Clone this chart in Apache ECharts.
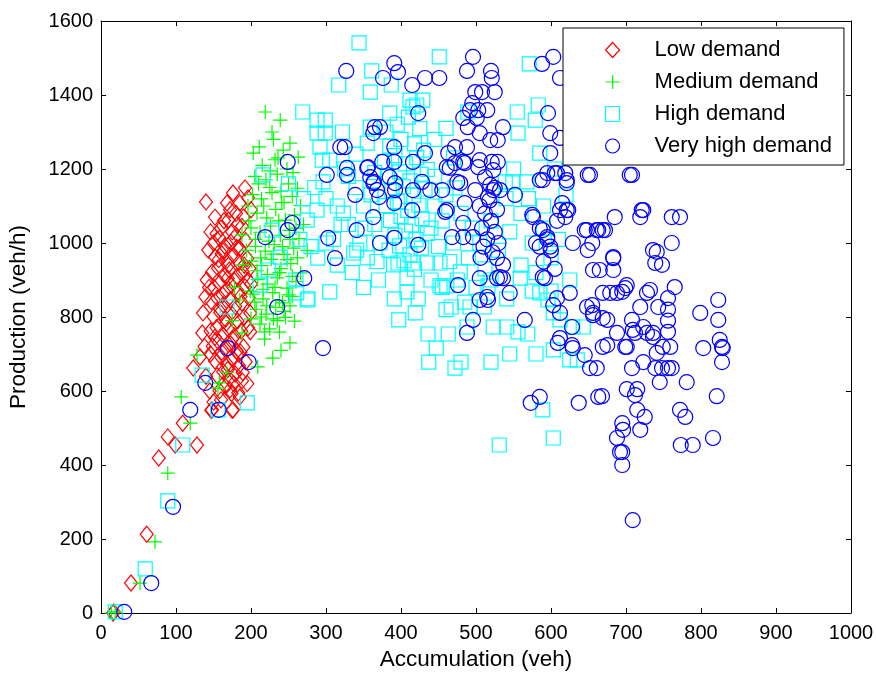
<!DOCTYPE html>
<html>
<head>
<meta charset="utf-8">
<script src="https://cdn.jsdelivr.net/npm/echarts@6/dist/echarts.min.js"></script>
<style>html,body{margin:0;padding:0;background:#fff;}#c{width:876px;height:675px;}</style>
</head>
<body>
<div id="c"></div>
<script>
const seriesNames = ['Low demand', 'Medium demand', 'High demand', 'Very high demand'];

const lowDemand = [
[16,0],[17,3],[40,81],[61,213],[77,419],[89,476],[99,454],[109,513],[128,454],[123,662],[132,692],[147,548],[175,548],[183,595],[172,603],[185,584],[148,549],[176,549],
[140,1111],[143,981],[141,900],[136,811],[135,757],[139,854],[138,720],[140,640],[145,600],[150,570],
[176,1135],[192,1149],[168,1108],[185,1108],[196,1122],[180,1080],[170,1062],[190,1070],[160,1040],[175,1030],[188,1045],[200,1090],
[150,1000],[158,1013],[165,992],[173,1002],[181,988],[193,1006],
[152,962],[161,971],[168,953],[177,966],[184,948],[195,958],
[148,921],[156,932],[164,914],[171,927],[181,909],[189,922],[198,931],
[151,879],[158,892],[167,873],[174,886],[183,868],[192,881],[200,889],
[147,842],[155,851],[163,833],[172,846],[179,829],[188,838],[197,852],
[150,801],[159,812],[166,794],[175,806],[182,789],[191,799],[199,811],
[146,762],[154,771],[162,753],[170,766],[178,749],[187,762],[196,771],
[149,721],[157,732],[165,714],[173,727],[181,708],[190,719],
[152,681],[160,692],[168,673],[176,687],[184,668],[193,679],
[155,641],[163,652],[171,633],[179,646],[188,628],
[158,601],[166,612],[174,593],[195,620],[160,576],[186,705],[169,905],[162,860],[185,985],[178,1015],
[154,1025],[163,978],[170,940],[178,898],[186,855],[159,822],[167,783],[175,741],[183,701],[152,745],[161,705],[169,658],[177,620],
[144,880],[146,700],[191,940],[196,900],[199,760],[189,650],[157,955],[164,1060],[182,1050],[172,1090],[152,1070],[146,1030]
];

const mediumDemand = [
[19,3],[14,0],[52,81],[72,192],[89,378],[119,513],[107,584],[128,697],[156,608],[158,622],
[188,1022],[189,941],[185,846],[188,757],[175,790],[168,650],[178,880],
[219,1354],[239,1332],[203,1243],[228,1300],[252,1270],[263,1232],[243,1251],[230,1280],[215,1210],[248,1200],
[205,1180],[220,1171],[235,1186],[250,1160],[262,1148],
[202,1131],[214,1119],[228,1136],[241,1109],[255,1126],[266,1101],
[208,1081],[221,1068],[233,1091],[246,1062],[258,1076],
[200,1041],[212,1029],[226,1046],[239,1021],[251,1034],[264,1012],
[206,991],[219,978],[231,996],[244,969],[257,986],
[201,951],[214,939],[227,956],[240,931],[253,944],[266,919],
[209,901],[222,889],[235,906],[248,878],[260,896],
[203,862],[216,849],[229,866],[242,838],[255,856],
[207,821],[220,808],[233,826],[246,799],[258,789],
[212,781],[225,768],[238,759],
[252,730],[229,689],[209,665],[240,710],[218,740],[270,1050],[275,980],[196,1100],[199,870],[232,1225],
[210,1160],[225,1150],[240,1140],[256,1190],[217,1100],[237,1060],[252,1010],[206,1010],[224,1005],[242,990],
[213,960],[230,970],[248,955],[262,960],[208,925],[222,915],[238,920],[255,910],[216,875],[232,880],[250,860],
[205,840],[221,830],[238,845],[252,830],[214,800],[230,795],[244,815],[200,795],[218,760],[235,790],[194,980],[197,1060],[244,1110],[260,1040],[226,1195],[211,1260],[236,1230]
];

const highDemand = [
[19,3],[59,119],[89,303],[109,454],[135,643],[156,549],[195,568],[168,827],[216,1184],[228,1035],[223,927],[212,886],
[261,865],[275,846],[289,959],[337,973],[305,868],[276,849],[239,962],
[344,1541],[451,1503],[571,1484],[361,1465],[317,1427],[359,1408],[387,1427],[583,1373],[555,1354],[489,1354],[269,1354],
[288,1332],[299,1332],[288,1297],[299,1297],[416,1368],[579,1332],[556,1297],[292,1259],[295,1224],[305,1224],[585,1243],
[539,1165],[549,1165],[568,1165],[472,1149],[296,1165],[288,1089],[323,1081],[341,981],[275,1062],[385,1351],[412,1386],[421,1373],[429,1386],[359,1313],
[380,1300],[395,1321],[410,1340],[425,1309],[385,1262],[400,1280],[418,1268],[430,1251],[378,1220],[392,1236],[406,1214],[421,1231],[435,1199],
[382,1181],[398,1192],[412,1168],[427,1186],[388,1141],[403,1152],[417,1129],[432,1146],[380,1101],[395,1112],[409,1088],[424,1102],
[386,1061],[400,1072],[414,1049],[428,1066],[392,1021],[406,1032],[420,1009],[435,1026],[384,981],[398,992],[412,968],[427,986],[390,941],[404,952],[418,929],
[325,1200],[340,1150],[350,1100],[330,1050],[345,1000],[360,1130],[365,1050],[355,960],[335,920],[350,880],[370,900],[372,1000],
[445,1180],[460,1130],[455,1060],[470,1000],[480,1080],[495,1040],[450,990],[465,950],[490,960],[505,1000],[520,1060],[512,930],[530,980],
[440,900],[455,880],[475,900],[500,880],[460,820],[485,840],[520,900],[545,1030],[560,1080],[540,1120],[575,1000],[590,1040],[600,960],[560,940],[580,920],[610,1010],[625,900],[600,870],[575,870],
[391,849],[423,849],[397,792],[419,811],[436,754],[463,754],[447,716],[437,678],[480,678],[472,662],[520,678],[467,827],[492,827],[511,827],[488,773],[523,773],[541,773],[569,754],
[531,454],[589,549],[603,473],[541,849],[559,905],[516,884],[479,922],[452,884],[461,884],[408,868],[396,946],[416,946],[435,946],[452,946],[408,905],
[596,846],[585,865],[603,811],[612,792],[629,773],[643,773],[603,711],[625,684],[635,684],[556,760],[580,700],[545,700],
[270,1120],[285,1150],[300,1120],[315,1100],[320,1050],[330,1180],[310,1010],[265,1010],[280,990],[300,1000],[315,940],[260,900],[250,1160],
[340,1240],[355,1270],[322,1300],[445,1280],[460,1310],[470,1230],[445,1100],[440,1040],[365,1190],[352,1040],[368,950],[550,1200],[590,1100],[570,1120],[605,1200],[620,1130]
];

const veryHighDemand = [
[31,3],[67,81],[96,287],[119,549],[139,622],[157,549],[169,716],[197,678],[235,827],[271,905],[296,716],[312,959],[219,1016],[249,1035],[255,1054],
[327,1465],[376,1446],[372,1313],[363,1297],[325,1259],[319,1259],[249,1219],[301,1184],[328,1203],[328,1184],[355,1203],[359,1178],[363,1162],[368,1143],[339,1130],[363,1070],[341,1035],[303,1014],[372,1000],
[391,1486],[396,1462],[415,1427],[432,1446],[451,1446],[496,1503],[488,1465],[520,1465],[521,1446],[499,1408],[508,1408],[525,1408],[603,1503],[588,1484],[423,1351],
[495,1378],[492,1359],[503,1359],[515,1359],[483,1338],[501,1338],[489,1313],[505,1297],[519,1278],[529,1278],[536,1313],[596,1351],[599,1297],[599,1243],
[365,1313],[391,1259],[432,1243],[375,1219],[391,1219],[416,1219],[463,1243],[472,1259],[488,1259],[465,1203],[483,1219],[505,1224],[521,1219],[529,1219],
[356,1205],[364,1165],[371,1124],[385,1178],[392,1162],[392,1143],[391,1108],[416,1143],[428,1165],[439,1143],[455,1143],[415,1089],[461,1089],[475,1165],[485,1108],[499,1143],
[461,1205],[472,1216],[485,1216],[503,1205],[512,1178],[523,1197],[479,1162],[519,1157],[525,1149],[516,1124],[459,1084],
[505,1100],[512,1080],[520,1060],[508,1040],[525,1030],[515,1010],[530,1000],[510,990],[522,975],[518,1115],[528,1090],[506,960],
[523,1143],[532,1143],[552,1130],[483,1054],[468,1016],[483,1016],[496,1016],[423,995],[391,1014],[476,886],[505,905],[515,854],[505,846],[528,959],[536,941],[532,908],
[576,1070],[585,1040],[595,1010],[600,980],[590,950],[605,930],[580,1000],[608,1060],[615,1108],[621,1089],[619,1070],[608,1189],[585,1170],[589,1170],[595,1189],[621,1170],[605,1189],
[652,1184],[708,1184],[723,1089],[719,1070],[685,1070],[612,1089],[623,1089],[575,1076],[589,1035],[595,1016],[599,990],[585,990],[629,1000],[648,1035],[661,1035],[669,1035],[655,1000],[649,981],
[683,959],[683,927],[656,927],[665,927],[736,981],[739,946],[589,908],[625,865],[679,865],[688,865],[699,878],[719,827],[732,873],[648,827],[656,805],[628,773],[669,797],[688,757],[709,765],[728,757],[736,746],
[612,743],[628,724],[675,724],[701,719],[545,865],[565,792],[608,851],[603,832],[612,811],[496,792],[488,757],[516,846],[609,730],[629,716],
[721,1089],[761,1070],[772,1070],[761,1000],[741,976],[748,941],[765,881],[701,886],[695,868],[669,865],[728,865],[756,851],[756,820],[756,790],[756,760],[743,827],[708,792],[675,792],[723,773],[712,757],[736,757],
[669,719],[699,719],[749,719],[759,719],[741,703],[803,716],[825,738],[828,719],[829,716],[823,792],[799,811],[823,846],[828,678],[739,662],[748,662],[756,662],[761,662],[708,662],[723,678],
[745,624],[781,624],[701,605],[715,605],[712,589],[668,586],[821,586],[772,549],[779,530],[715,549],[725,530],[695,513],[696,495],[688,473],[692,435],[695,435],[695,400],[719,495],[773,454],[789,454],[816,473],[709,251],
[612,1446],[619,1189],[621,1162],[649,1184],[705,1184],[645,1035],[663,1035],[672,1035],[683,962],[612,1284],[585,584],[573,568],[637,568],[663,584],[652,662],[661,662],[655,832],[656,811],[645,697],[592,905],[528,905],[536,905]
];

const xTicks = { min: 0, max: 1000, interval: 100 };
const yTicks = { min: 0, max: 1600, interval: 200 };

const FONT = 'Liberation Sans, Arial, Helvetica, sans-serif';
const plusPath = 'path://M5,0L5,10M0,5L10,5';
const styles = [
  { symbol: 'diamond', size: [13, 16], color: '#ff0000' },
  { symbol: plusPath, size: 14, color: '#00ff00' },
  { symbol: 'rect', size: 14, color: '#00ffff' },
  { symbol: 'circle', size: 15, color: '#0000ff' }
];
const datasets = [lowDemand, mediumDemand, highDemand, veryHighDemand];

const chart = echarts.init(document.getElementById('c'), null, { renderer: 'canvas' });

function axisCommon(extra) {
  return Object.assign({
    type: 'value',
    splitLine: { show: false },
    axisLine: { show: true, onZero: false, lineStyle: { color: '#000', width: 1 } },
    axisTick: { show: true, inside: true, length: 5, lineStyle: { color: '#000', width: 1 } },
    axisLabel: { show: false }
  }, extra);
}

const plainNum = v => String(v);

chart.setOption({
  animation: false,
  backgroundColor: '#fff',
  grid: { left: 101, right: 25, top: 21, bottom: 62, containLabel: false, outerBoundsMode: 'none' },
  xAxis: [
    axisCommon({
      position: 'bottom', min: xTicks.min, max: xTicks.max, interval: xTicks.interval,
      name: 'Accumulation (veh)', nameLocation: 'middle', nameGap: 35,
      nameTextStyle: { color: '#000', fontSize: 22.5, fontFamily: FONT },
      axisLabel: { show: true, color: '#000', fontSize: 20, fontFamily: FONT, margin: 10, formatter: plainNum }
    }),
    axisCommon({ position: 'top', min: xTicks.min, max: xTicks.max, interval: xTicks.interval })
  ],
  yAxis: [
    axisCommon({
      position: 'left', min: yTicks.min, max: yTicks.max, interval: yTicks.interval,
      name: 'Production (veh/h)', nameLocation: 'middle', nameGap: 71,
      nameTextStyle: { color: '#000', fontSize: 22.5, fontFamily: FONT },
      axisLabel: { show: true, color: '#000', fontSize: 20, fontFamily: FONT, margin: 8, formatter: plainNum }
    }),
    axisCommon({ position: 'right', min: yTicks.min, max: yTicks.max, interval: yTicks.interval })
  ],
  legend: {
    orient: 'vertical',
    left: 563, top: 28,
    padding: [11, 12, 8, 42],
    itemGap: 10,
    itemWidth: 14, itemHeight: 15,
    backgroundColor: '#fff',
    borderColor: '#000', borderWidth: 1,
    textStyle: { color: '#000', fontSize: 22, fontFamily: FONT, lineHeight: 22, padding: [0, 0, 0, 30] },
    selectedMode: false,
    data: seriesNames.map((n, i) => ({
      name: n,
      icon: styles[i].symbol,
      itemStyle: { color: 'rgba(0,0,0,0)', borderColor: styles[i].color, borderWidth: 1.2 }
    }))
  },
  series: seriesNames.map((n, i) => ({
    name: n,
    type: 'scatter',
    xAxisIndex: 0, yAxisIndex: 0,
    symbol: styles[i].symbol,
    symbolSize: styles[i].size,
    clip: false,
    itemStyle: { color: 'rgba(0,0,0,0)', borderColor: styles[i].color, borderWidth: 1.2, opacity: 1 },
    emphasis: { disabled: true },
    data: datasets[i]
  }))
});
</script>
</body>
</html>
